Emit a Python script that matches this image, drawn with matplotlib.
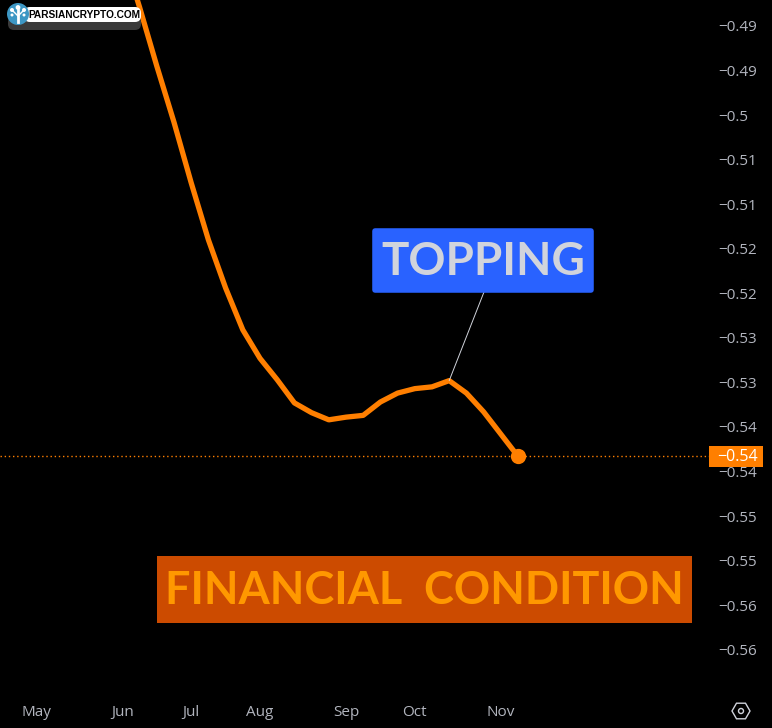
import matplotlib
matplotlib.use("Agg")
import matplotlib.pyplot as plt
from matplotlib.patches import Circle, FancyBboxPatch, Rectangle, RegularPolygon

# weekly readings, first one is the first week of June
values = [-0.4817, -0.4879, -0.4945, -0.5008, -0.5076, -0.5140, -0.5194, -0.5241,
          -0.5273, -0.5297, -0.5323, -0.5334, -0.5342, -0.5339, -0.5337, -0.5322,
          -0.5312, -0.5307, -0.5305, -0.5298, -0.5312, -0.5333, -0.5358, -0.5383]
weeks = list(range(len(values)))

months = ["May", "Jun", "Jul", "Aug", "Sep", "Oct", "Nov"]
month_weeks = [-5, 0, 4, 8, 13, 17, 22]

y_ticks = [-0.49, -0.495, -0.5, -0.505, -0.51, -0.515, -0.52, -0.525, -0.53,
           -0.535, -0.54, -0.545, -0.55, -0.555, -0.56]
y_labels = ["0.49", "0.49", "0.5", "0.51", "0.51", "0.52", "0.52", "0.53", "0.53",
            "0.54", "0.54", "0.55", "0.55", "0.56", "0.56"]
peak_week = 19

W, H = 772, 728
AXIS_X, AXIS_Y = 709, 695
ORANGE = "#ff7f00"
GREY = "#b2b5be"
FONT = "Open Sans"
BOLD_FONT = "Lato"


def y_to_val(py):
    return -0.49 - (py - 26) * 0.005 / 44.55


def x_to_week(px):
    return (px - 122.4) / 17.2


fig = plt.figure(figsize=(W / 100, H / 100), dpi=100, facecolor="black")
ax = fig.add_axes([0, 1 - AXIS_Y / H, AXIS_X / W, AXIS_Y / H], facecolor="black")
ax.set_xlim(x_to_week(0), x_to_week(AXIS_X))
ax.set_ylim(y_to_val(AXIS_Y), y_to_val(0))
for s in ax.spines.values():
    s.set_visible(False)

ax.axhline(values[-1], color=ORANGE, lw=1, ls=(0, (1, 2)), zorder=1)
ax.plot(weeks, values, color=ORANGE, lw=3.8, solid_joinstyle="round", zorder=3)
ax.plot(weeks[-1], values[-1], "o", color=ORANGE, ms=11, mew=0, zorder=4)

ax.set_xticks(month_weeks, months)
ax.yaxis.tick_right()
ax.set_yticks(y_ticks, ["\u2212" + s for s in y_labels])
ax.tick_params(axis="both", length=0, labelcolor=GREY, labelsize=11)
ax.tick_params(axis="x", pad=7)
ax.tick_params(axis="y", pad=7)
for t in ax.get_xticklabels() + ax.get_yticklabels():
    t.set_family(FONT)

# overlay in pixel units for the boxes and the logo
over = fig.add_axes([0, 0, 1, 1], facecolor="none")
over.set_xlim(0, W)
over.set_ylim(H, 0)
over.axis("off")

# callout
over.add_patch(FancyBboxPatch((375, 231), 216, 59, boxstyle="round,pad=0,rounding_size=0", fc="#2962ff",
                              ec="#2962ff", lw=4, joinstyle="round"))
over.text(483.5, 262, "TOPPING", color="#d1d4dc", fontsize=33, fontweight="bold",
          family=BOLD_FONT, ha="center", va="center")
ax.annotate("", xy=(peak_week, values[peak_week]), xytext=(484, 292), textcoords=over.transData,
            arrowprops=dict(arrowstyle="-", color="#d1d4dc", lw=0.7, shrinkA=0, shrinkB=0))

# title block
over.add_patch(Rectangle((157, 556), 535, 67, fc="#cc4b00", ec="none"))
over.text(424, 591, "FINANCIAL  CONDITION", color="#ff9800", fontsize=32.4, fontweight="bold",
          family=BOLD_FONT, ha="center", va="center")

# last value tag
over.add_patch(Rectangle((709, 446), 54, 21, fc=ORANGE, ec="none"))
over.text(758, 457, "\u22120.54", color="white", fontsize=11.5, family=FONT, ha="right", va="center")

# settings icon
over.add_patch(RegularPolygon((741, 711), 6, radius=9, orientation=0.5236, fc="none", ec="#d1d4dc", lw=1))
over.add_patch(Circle((741, 711), 2.5, fc="none", ec="#d1d4dc", lw=1))

# logo
over.add_patch(FancyBboxPatch((8, 16), 133, 14, boxstyle="round,pad=0,rounding_size=6", fc="#3a3a3a", ec="none"))
over.add_patch(FancyBboxPatch((24, 7), 117, 15, boxstyle="round,pad=0,rounding_size=6", fc="white", ec="none"))
over.add_patch(Circle((18, 14), 11, fc="#3d97c4", ec="none"))
over.plot([18, 18], [10, 22], color="white", lw=2)
over.plot([12, 18, 24], [10, 16, 10], color="white", lw=1)
for cx, cy, r in [(18, 7.5, 2.4), (12, 10, 2), (24, 10, 2), (12, 15, 1.5), (24, 15, 1.5)]:
    over.add_patch(Circle((cx, cy), r, fc="white", ec="none"))
over.text(84.5, 15, "PARSIANCRYPTO.COM", color="black", fontsize=7.3, fontweight="bold",
          family="Liberation Sans", ha="center", va="center")

fig.savefig("out.png", dpi=100, facecolor="black")
